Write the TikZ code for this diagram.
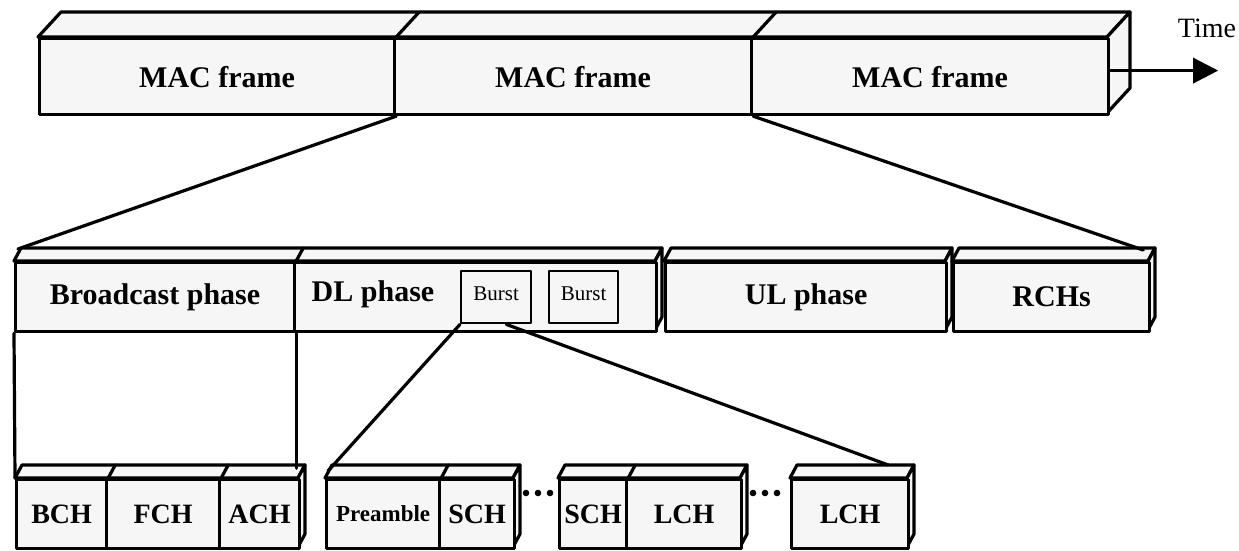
\documentclass[tikz,border=0pt]{standalone}
\usepackage{fontspec}
\setmainfont{Liberation Serif}
\usetikzlibrary{calc,arrows.meta}
\definecolor{boxfill}{gray}{0.965}
\newcommand\prismfaces[6]{%
  \draw[face] (#1,#2) -- (#1+#5,#2-#6) -- (#3+#5,#2-#6) -- (#3,#2) -- cycle;
  \draw[face] (#3,#2) -- (#3+#5,#2-#6) -- (#3+#5,#4-#6) -- (#3,#4) -- cycle;
}
\begin{document}
\begin{tikzpicture}[x=1pt,y=-1pt,line join=round,
  edge/.style={line width=3.2pt,line cap=round},
  face/.style={draw,line width=3.2pt,fill=boxfill},
  cell/.style={draw,line width=3.2pt,fill=boxfill,inner sep=0pt,anchor=north west,
    font=\bfseries\fontsize{30}{30}\selectfont},
  topcell/.style={cell,minimum height=76pt},
  midcell/.style={cell,minimum height=69pt},
  lowcell/.style={cell,minimum height=69pt,font=\bfseries\fontsize{28}{28}\selectfont},
  burstbox/.style={draw,line width=2.4pt,fill=boxfill,inner sep=0pt,anchor=north west,
    minimum height=52pt,font=\fontsize{21}{21}\selectfont},
]
\useasboundingbox (0,0) rectangle (1239,551);

% ---- top row: MAC frames ----
\prismfaces{38}{37}{1107}{113}{23}{25}
\node[topcell,minimum width=355pt] (m1) at (38,37) {MAC frame};
\node[topcell,minimum width=357pt] (m2) at (393,37) {MAC frame};
\node[topcell,minimum width=357pt] (m3) at (750,37) {MAC frame};
\draw[edge] (m1.north east) -- ++(23,-25);
\draw[edge] (m2.north east) -- ++(23,-25);
\draw[edge,-{Triangle[length=25pt,width=25pt]}] ($(m3.east)+(0,-6)$) -- ++(108,0);
\node[font=\fontsize{28}{28}\selectfont,inner sep=0pt] (time) at (1207,28) {Time};

% ---- middle row: phases ----
\prismfaces{14}{261}{655}{330}{7}{13}
\prismfaces{664}{261}{945}{330}{7}{13}
\prismfaces{952}{261}{1148}{330}{7}{13}
\node[midcell,minimum width=279pt] (bp) at (14,261) {Broadcast phase};
\node[midcell,minimum width=362pt] (dl) at (293,261) {};
\node[midcell,minimum width=281pt] (ul) at (664,261) {UL phase};
\node[midcell,minimum width=196pt] (rc) at (952,261) {RCHs};
\draw[edge] (bp.north east) -- ++(7,-13);
\node[font=\bfseries\fontsize{30}{30}\selectfont,inner sep=0pt] (dltext) at (373,294) {DL phase};
\node[burstbox,minimum width=70pt] (b1) at (460,270) {\raisebox{8pt}{Burst}};
\node[burstbox,minimum width=69pt] (b2) at (548,270) {\raisebox{8pt}{Burst}};

% ---- lower row: channels ----
\prismfaces{15}{478}{298}{547}{7}{13}
\prismfaces{325}{478}{513}{547}{7}{13}
\prismfaces{558}{478}{740}{547}{7}{13}
\prismfaces{790}{478}{907}{547}{7}{13}
\node[lowcell,minimum width=90pt] (bch) at (15,478) {BCH};
\node[lowcell,minimum width=113pt] (fch) at (105,478) {FCH};
\node[lowcell,minimum width=80pt] (ach) at (218,478) {ACH};
\node[lowcell,minimum width=113pt,font=\bfseries\fontsize{23}{23}\selectfont] (pre) at (325,478) {Preamble};
\node[lowcell,minimum width=75pt] (sch1) at (438,478) {SCH};
\node[lowcell,minimum width=67pt] (sch2) at (558,478) {SCH};
\node[lowcell,minimum width=115pt] (lch1) at (625,478) {LCH};
\node[lowcell,minimum width=117pt] (lch2) at (790,478) {LCH};
\draw[edge] (bch.north east) -- ++(7,-13);
\draw[edge] (fch.north east) -- ++(7,-13);
\draw[edge] (pre.north east) -- ++(7,-13);
\draw[edge] (sch2.north east) -- ++(7,-13);
\foreach \x in {526,538,550,753,765,777} \fill (\x,493) circle (3.3pt);

% ---- connectors ----
\draw[edge] (m1.south east) -- ($(bp.north west)+(4,-12)$);
\draw[edge] (m2.south east) -- ($(rc.north east)+(-8,-11)$);
\draw[edge] (bp.south west) -- (bch.north west);
\draw[edge] (bp.south east) -- ++(0,135);
\draw[edge] (b1.south west) -- ($(pre.north west)+(3,-7)$);
\draw[edge] ($(b1.south west)!0.64!(b1.south east)$) -- ($(lch2.north east)+(-22,-13)$);
\end{tikzpicture}
\end{document}
